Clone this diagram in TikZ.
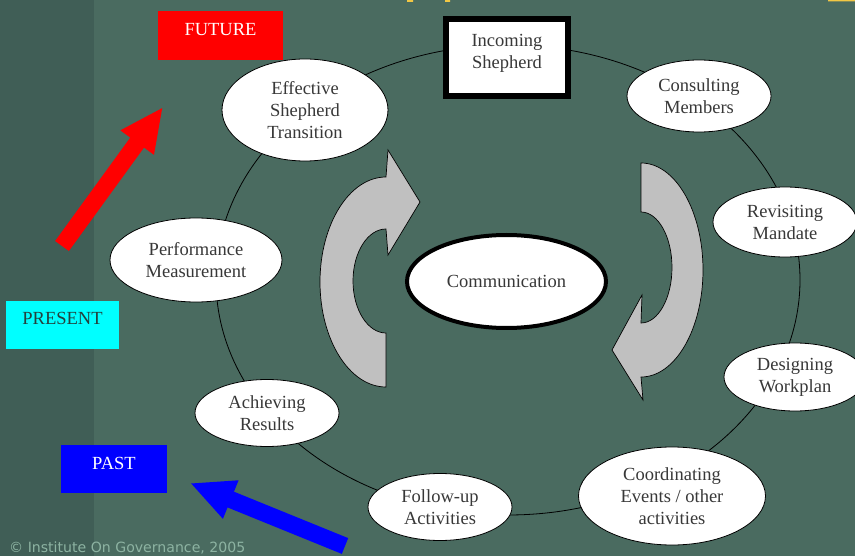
\documentclass[tikz,border=0pt]{standalone}
\usepackage{fontspec}
\setmainfont{Liberation Serif}
\newfontfamily\notefont{DejaVu Sans}
\usetikzlibrary{shapes.geometric,arrows.meta}

\definecolor{slate}{HTML}{4A6B60}
\definecolor{slatedark}{HTML}{405E56}
\definecolor{inkgray}{HTML}{383838}
\definecolor{arrowgray}{HTML}{C0C0C0}
\definecolor{notegreen}{HTML}{8DB3A2}
\definecolor{titleyellow}{HTML}{F2C744}
\definecolor{presentink}{HTML}{24413D}
\definecolor{futurered}{RGB}{255,0,0}
\definecolor{presentcyan}{RGB}{0,255,255}
\definecolor{pastblue}{RGB}{0,0,255}

\tikzset{
  stage/.style={ellipse, draw=black, line width=0.8pt, fill=white, inner sep=0pt,
    align=center, text=inkgray, font=\fontsize{18.5}{22}\selectfont},
  era/.style={rectangle, inner sep=0pt, text height=13pt, text depth=13pt,
    font=\fontsize{18.5}{22}\selectfont},
  timearrow/.style={line width=17pt, -{Triangle[width=38pt,length=44pt]}},
  turn/.style={fill=arrowgray, draw=black, line width=0.7pt}
}

\begin{document}
\begin{tikzpicture}[x=1pt,y=-1pt]
\useasboundingbox (0,0) rectangle (855,556);
\fill [slate] (0,0) rectangle (855,556);
\fill [slatedark] (0,0) rectangle (94,556);
\fill [titleyellow] (407,0) rectangle (413,2) (445,0) rectangle (450,2) (828,0) rectangle (855,1.5);

% the cycle
\draw [line width=0.8pt] (508,280) ellipse [x radius=292pt, y radius=235pt];

% turning arrows round the middle
\draw [turn] (386,387) arc [start angle=270, end angle=90, x radius=66pt, y radius=105pt]
  -- (388,150) -- (420,202) -- (388,255) -- (386,229)
  arc [start angle=90, end angle=270, x radius=33pt, y radius=52pt] -- cycle;
\draw [turn] (641,163) arc [start angle=90, end angle=-90, x radius=62pt, y radius=107pt]
  -- (643,400) -- (612,350) -- (642,295) -- (641,323)
  arc [start angle=-90, end angle=90, x radius=31pt, y radius=55.5pt] -- cycle;

\node [rectangle, draw=black, line width=6pt, fill=white, minimum width=122pt, minimum height=77pt,
  inner sep=0pt, align=center, text=inkgray, font=\fontsize{18.5}{22}\selectfont]
  (incoming) at (507,57.5) {Incoming\\Shepherd\\[-10pt]\mbox{}};
\node [stage, line width=4pt, minimum width=199pt, minimum height=93pt] (communication) at (506.5,281.5) {Communication};

\node [stage, minimum width=144pt, minimum height=72pt] (consulting) at (699,96) {Consulting\\Members};
\node [stage, minimum width=144pt, minimum height=70pt] (revisiting) at (785,222) {Revisiting\\Mandate};
\node [stage, minimum width=142pt, minimum height=68pt] (designing) at (795,377) {Designing\\Workplan};
\node [stage, minimum width=187pt, minimum height=98pt] (coordinating) at (672,496) {Coordinating\\Events / other\\activities};
\node [stage, minimum width=144pt, minimum height=67pt] (followup) at (440,507) {Follow-up\\Activities};
\node [stage, minimum width=144pt, minimum height=67pt] (achieving) at (267,413) {Achieving\\Results};
\node [stage, minimum width=172pt, minimum height=84pt] (performance) at (196,260) {Performance\\Measurement};
\node [stage, minimum width=166pt, minimum height=102pt] (effective) at (305,110) {Effective\\Shepherd\\Transition};

% time line
\node [era, fill=futurered, text=white, minimum width=125pt, minimum height=49pt] (future) at (220.5,35.5) {FUTURE};
\node [era, fill=presentcyan, text=presentink, minimum width=113pt, minimum height=48pt] (present) at (62.5,325) {PRESENT};
\node [era, fill=pastblue, text=white, minimum width=106pt, minimum height=48pt] (past) at (114,469) {PAST};

\coordinate (redtail) at (62,246);
\coordinate (redtip) at (163,107);
\coordinate (bluetail) at (345,546);
\coordinate (bluetip) at (190,483);
\draw [timearrow, futurered] (redtail) -- (redtip);
\draw [timearrow, pastblue] (bluetail) -- (bluetip);

\node [anchor=base west, inner sep=0pt, text=notegreen, font=\notefont\fontsize{14.1}{18}\selectfont]
  (note) at (9,552) {© Institute On Governance, 2005};
\end{tikzpicture}
\end{document}
